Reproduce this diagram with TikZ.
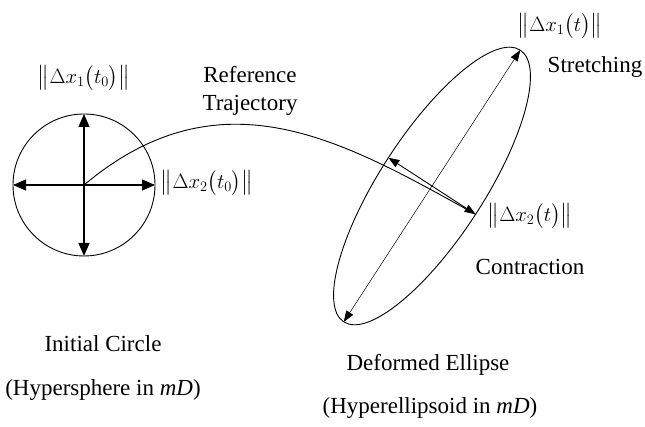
\documentclass[tikz,border=0pt]{standalone}
\usepackage{amsmath}
\usepackage{fontspec}
\setmainfont{Liberation Serif}
\usepackage{tikz}
\usetikzlibrary{positioning, arrows.meta, shapes.geometric}

\begin{document}
\begin{tikzpicture}[x=1pt, y=1pt,
  txt/.style={font=\fontsize{23}{28}\selectfont, inner sep=0pt},
  norm/.style={font=\fontsize{20}{24}\selectfont, inner sep=0pt},
  bigarrow/.style={line width=1.1pt, {Triangle[length=13pt,width=11pt]}-{Triangle[length=13pt,width=11pt]}},
  axisarrow/.style={line width=0.9pt, {Triangle[length=11pt,width=8pt]}-{Triangle[length=11pt,width=8pt]}},
  thinarrow/.style={line width=0.5pt, {Triangle[length=11pt,width=8pt]}-{Triangle[length=11pt,width=8pt]}},
  trajectory/.style={line width=0.9pt}]
  \useasboundingbox (0,0) rectangle (645,427);

  \node (ic) [circle, draw, line width=0.9pt, minimum size=142pt, inner sep=0pt, outer sep=0pt] at (84,242) {};
  \node (el) [ellipse, draw, line width=0.9pt, minimum width=324pt, minimum height=104pt, inner sep=0pt, outer sep=0pt, rotate=57] at (432,241) {};

  \draw [bigarrow] (ic.west) -- (ic.east);
  \draw [bigarrow] (ic.north) -- (ic.south);
  \draw [thinarrow] (el.west) -- (el.east);
  \draw [axisarrow] (el.north) -- (el.south);
  \draw [trajectory] (ic.center) .. controls +(40:180) and +(151:150) .. (el.south);

  \node (dxa) [norm] at (84,349) {$\big\|\Delta x_1\big(t_0\big)\big\|$};
  \node (dxb) [norm] at (207,244) {$\big\|\Delta x_2\big(t_0\big)\big\|$};
  \node (ref) [txt, align=center] at (250,336) {Reference\\Trajectory};
  \node (dxc) [norm] at (560,401) {$\big\|\Delta x_1\big(t\big)\big\|$};
  \node (stretch) [txt, anchor=base] at (595,354) {Stretching};
  \node (dxd) [norm] at (530,211) {$\big\|\Delta x_2\big(t\big)\big\|$};
  \node (contract) [txt, anchor=base] at (530,152) {Contraction};

  \node (initial) [txt, anchor=base] at (103,75) {Initial Circle};
  \node (hsphere) [txt, anchor=base] at (103,31) {(Hypersphere in \textit{mD})};
  \node (deformed) [txt, anchor=base] at (428,56) {Deformed Ellipse};
  \node (hellips) [txt, anchor=base] at (430,13) {(Hyperellipsoid in \textit{mD})};
\end{tikzpicture}
\end{document}
